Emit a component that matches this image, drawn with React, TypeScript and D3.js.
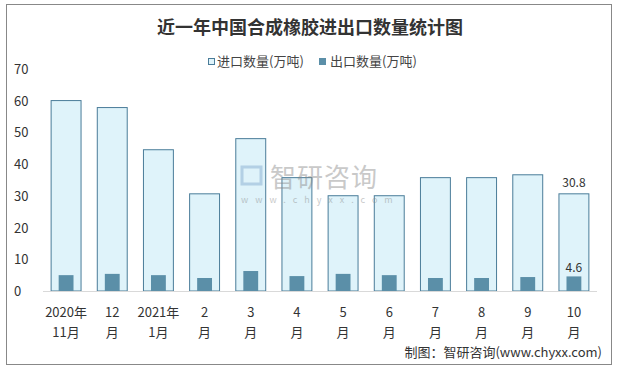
import React from 'react';
import * as d3 from 'd3';

const months = ['2020年|11月', '12|月', '2021年|1月', '2|月', '3|月', '4|月', '5|月', '6|月', '7|月', '8|月', '9|月', '10|月'];
const importVals = [60.2, 58.0, 44.7, 30.8, 48.2, 35.9, 30.2, 30.2, 35.9, 35.9, 36.8, 30.8];
const exportVals = [5.0, 5.4, 5.0, 4.1, 6.3, 4.7, 5.4, 5.0, 4.1, 4.1, 4.4, 4.6];
const yTicks = [0, 10, 20, 30, 40, 50, 60, 70];

const W = 620;
const H = 369;
const font = '"Noto Sans CJK SC", "Noto Sans", sans-serif';

export default function App() {
  const x = d3.scaleBand().domain(months).range([43, 597]).paddingInner(0.33).paddingOuter(0.165);
  const y = d3.scaleLinear().domain([0, 70]).range([291, 69]);
  const bw = x.bandwidth();
  const ew = bw * 0.48;
  const last = months.length - 1;

  return (
    <svg width={W} height={H} style={{ position: 'absolute', left: 0, top: 0 }} fontFamily={font}>
      <rect x={6.5} y={4.5} width={605} height={360} fill="#fff" stroke="#888" />
      <text x={310} y={34} textAnchor="middle" fontSize={18} fontWeight="bold" fill="#333">近一年中国合成橡胶进出口数量统计图</text>

      {/* legend */}
      <rect x={208.5} y={58.5} width={6} height={6} fill="#DFF3FA" stroke="#4A7C99" />
      <text x={217} y={66} fontSize={13} fill="#444">进口数量(万吨)</text>
      <rect x={319} y={58} width={7} height={7} fill="#5B8FA8" />
      <text x={330} y={66} fontSize={13} fill="#444">出口数量(万吨)</text>

      {yTicks.map(t => (
        <text key={t} x={14} y={y(t) + 5} fontSize={13} fill="#333">{t}</text>
      ))}

      {months.map((m, i) => (
        <rect key={'i' + m} x={(x(m) as number) + 0.5} y={y(importVals[i]) + 0.5} width={bw - 1} height={y(0) - y(importVals[i]) - 0.5}
          fill="#DFF3FA" stroke="#4A7C99" strokeWidth={1} />
      ))}
      {months.map((m, i) => (
        <rect key={'e' + m} x={(x(m) as number) + (bw - ew) / 2} y={y(exportVals[i])} width={ew} height={y(0) - y(exportVals[i])}
          fill="#5B8FA8" />
      ))}
      <line x1={43} x2={597} y1={291.5} y2={291.5} stroke="#d9d9d9" strokeWidth={1} />

      {/* watermark */}
      <g opacity={0.45}>
        <rect x={242} y={167} width={19} height={17} fill="none" stroke="#7fa6cc" strokeWidth={3} />
        <text x={270} y={187} fontSize={26} fill="#888" letterSpacing={1}>智研咨询</text>
        <text x={241} y={203} fontSize={9} fill="#888" letterSpacing={7}>www.chyxx.com</text>
      </g>

      <text x={(x(months[last]) as number) + bw / 2} y={y(importVals[last]) - 6} textAnchor="middle" fontSize={12} fill="#333">{importVals[last]}</text>
      <text x={(x(months[last]) as number) + bw / 2} y={y(exportVals[last]) - 4} textAnchor="middle" fontSize={12} fill="#333">{exportVals[last]}</text>

      {months.map(m => {
        const [a, b] = m.split('|');
        const cx = (x(m) as number) + bw / 2;
        return (
          <g key={'l' + m}>
            <text x={cx} y={317} textAnchor="middle" fontSize={13} fill="#333">{a}</text>
            <text x={cx} y={337} textAnchor="middle" fontSize={13} fill="#333">{b}</text>
          </g>
        );
      })}

      <text x={602} y={357} textAnchor="end" fontSize={13} fill="#333">制图：智研咨询(www.chyxx.com)</text>
    </svg>
  );
}
